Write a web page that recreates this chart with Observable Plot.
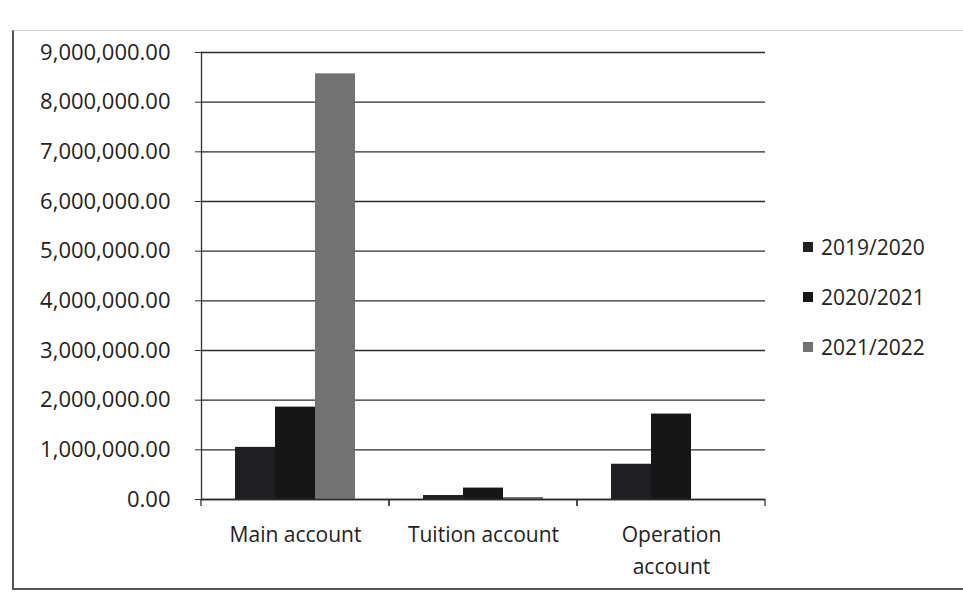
<!DOCTYPE html>
<html>
<head>
<meta charset="utf-8">
<script src="https://cdn.jsdelivr.net/npm/d3@7"></script>
<script src="https://cdn.jsdelivr.net/npm/@observablehq/plot@0.6"></script>
<style>
  html, body { margin: 0; padding: 0; background: #fff; }
  body { width: 963px; height: 596px; overflow: hidden; position: relative; font-family: "Open Sans", Lato, sans-serif; color: #222; }
  #frame { position: absolute; left: 12px; top: 30px; width: 980px; height: 557px;
           border-left: 2px solid #555; border-top: 1px solid #cfcfcf; border-bottom: 2px solid #555; }
  #chart { position: absolute; left: 0; top: 0; }
  #legend { position: absolute; left: 803px; top: 222px; }
  .item { display: flex; align-items: center; height: 50px; font-size: 21px; line-height: 28px; }
  .sw { width: 10px; height: 10px; margin-right: 8px; }
</style>
</head>
<body>
<div id="frame"></div>
<div id="chart"></div>
<div id="legend"></div>
<script>
// ---- data ----
const categories = ["Main account", "Tuition account", "Operation account"];
const categoryLabels = ["Main account", "Tuition account", "Operation\naccount"];
const seasons = ["2019/2020", "2020/2021", "2021/2022"];
const values2019 = [1050000, 80000, 710000];
const values2020 = [1860000, 230000, 1720000];
const values2021 = [8570000, 40000, 0];
const yTicks = [0, 1000000, 2000000, 3000000, 4000000, 5000000, 6000000, 7000000, 8000000, 9000000];
const seasonColors = ["#1f1f24", "#161616", "#727272"];

const seriesValues = [values2019, values2020, values2021];
const rows = categories.flatMap((c, i) =>
  seasons.map((s, j) => ({category: c, season: s, value: seriesValues[j][i]}))
);

// boundary ticks of the category axis (Excel-style ticks between categories)
const boundaryTicks = (index, scales, values, dimensions, context) => {
  const g = d3.create("svg:g");
  const [a, b] = scales.x.range();
  const y0 = scales.y(0);
  for (const px of [a, b]) {
    g.append("line").attr("x1", px).attr("x2", px).attr("y1", y0).attr("y2", y0 + 7)
      .attr("stroke", "#333").attr("stroke-width", 1.3);
  }
  return g.node();
};

const chart = Plot.plot({
  width: 963,
  height: 596,
  marginLeft: 201,
  marginRight: 198,
  marginTop: 52,
  marginBottom: 97,
  style: {fontFamily: "'Open Sans', Lato, sans-serif", fontSize: "21px", color: "#222", background: "transparent", overflow: "visible"},
  fx: {domain: categories, padding: 0, label: null},
  x: {domain: seasons, paddingInner: 0, paddingOuter: 0.8, axis: null},
  y: {domain: [0, 9000000], label: null},
  color: {domain: seasons, range: seasonColors},
  marks: [
    Plot.gridY(yTicks, {stroke: "#2b2b2b", strokeOpacity: 1, strokeWidth: 1.3}),
    Plot.barY(rows, {fx: "category", x: "season", y: "value", fill: "season"}),
    Plot.ruleY([0], {stroke: "#2b2b2b", strokeWidth: 1.5}),
    Plot.frame({anchor: "left", facetAnchor: "left", stroke: "#333", strokeWidth: 1.3}),
    boundaryTicks,
    Plot.axisY(yTicks, {tickSize: 6, tickPadding: 25, tickFormat: d3.format(",.2f"), stroke: "#333", fontSize: 22, label: null}),
    Plot.axisFx({anchor: "bottom", tickSize: 0, tickPadding: 20, fontSize: 21, lineHeight: 1.52, label: null,
                 tickFormat: (d) => categoryLabels[categories.indexOf(d)]})
  ]
});
document.getElementById("chart").appendChild(chart);

const legend = d3.select("#legend");
seasons.forEach((s, i) => {
  const item = legend.append("div").attr("class", "item");
  item.append("div").attr("class", "sw").style("background", seasonColors[i]);
  item.append("span").text(s);
});
</script>
</body>
</html>
